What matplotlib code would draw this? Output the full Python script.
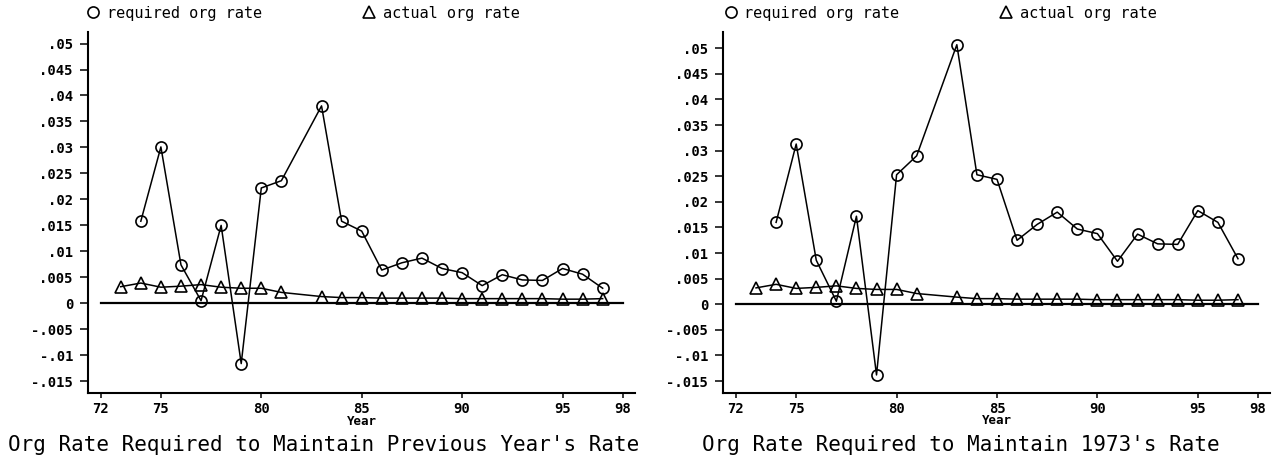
import numpy as np
import matplotlib
matplotlib.use('Agg')
import matplotlib.pyplot as plt
from matplotlib.lines import Line2D

# years (no observation for 82)
years_req = [74, 75, 76, 77, 78, 79, 80, 81, 83, 84, 85, 86, 87, 88, 89, 90, 91, 92, 93, 94, 95, 96, 97]
years_act = [73, 74, 75, 76, 77, 78, 79, 80, 81, 83, 84, 85, 86, 87, 88, 89, 90, 91, 92, 93, 94, 95, 96, 97]

# required org rate, to keep previous year's rate
req_prev = [0.0158, 0.0301, 0.0074, 0.0005, 0.0150, -0.0116, 0.0222, 0.0236, 0.0380, 0.0158, 0.0139,
            0.0064, 0.0078, 0.0087, 0.0067, 0.0059, 0.0034, 0.0055, 0.0045, 0.0044, 0.0067, 0.0056, 0.0029]
# required org rate, to keep 1973's rate
req_1973 = [0.0160, 0.0313, 0.0086, 0.0006, 0.0172, -0.0138, 0.0253, 0.0290, 0.0507, 0.0253, 0.0244,
            0.0125, 0.0156, 0.0180, 0.0147, 0.0138, 0.0084, 0.0137, 0.0118, 0.0117, 0.0183, 0.0160, 0.0089]
# actual org rate
act_prev = [0.0032, 0.0039, 0.0031, 0.0033, 0.0036, 0.0031, 0.0029, 0.0029, 0.0021, 0.0013, 0.0011, 0.0011,
            0.0010, 0.0010, 0.0010, 0.0010, 0.0009, 0.0009, 0.0009, 0.0009, 0.0009, 0.0008, 0.0008, 0.0009]
act_1973 = [0.0032, 0.0039, 0.0031, 0.0033, 0.0036, 0.0031, 0.0029, 0.0029, 0.0021, 0.0014, 0.0011, 0.0011,
            0.0010, 0.0010, 0.0010, 0.0010, 0.0009, 0.0009, 0.0009, 0.0009, 0.0009, 0.0008, 0.0008, 0.0009]

yticks = [-0.015, -0.01, -0.005, 0, 0.005, 0.01, 0.015, 0.02, 0.025, 0.03, 0.035, 0.04, 0.045, 0.05]
ytick_labels = ['-.015', '-.01', '-.005', '0', '.005', '.01', '.015', '.02', '.025', '.03', '.035', '.04', '.045', '.05']
xticks = [72, 75, 80, 85, 90, 95, 98]
xtick_labels = ['72', '75', '80', '85', '90', '95', '98']

titles = ["Org Rate Required to Maintain Previous Year's Rate", "Org Rate Required to Maintain 1973's Rate"]
legend_labels = ['required org rate', 'actual org rate']

W, H = 1275, 459
fig = plt.figure(figsize=(W / 100, H / 100), dpi=100)
mono = 'DejaVu Sans Mono'

panels = [
    # axes left px, bottom px, top px, ylim, data
    (88.0, 393.3, 32.0, (-0.01732, 0.05222), req_prev, act_prev, titles[0]),
    (723.3, 392.7, 31.7, (-0.01727, 0.05324), req_1973, act_1973, titles[1]),
]

for i, (lpx, bpx, tpx, ylim, req, act, title) in enumerate(panels):
    ax = fig.add_axes([lpx / W, (H - bpx) / H, 547 / W, (bpx - tpx) / H])
    off = i * 637.5

    ax.plot([72, 98], [0, 0], color='black', lw=1.6, zorder=1)
    ax.plot(years_req, req, color='black', lw=1.1, marker='o', ms=8,
            mfc='none', mec='black', mew=1.2, zorder=3)
    ax.plot(years_act, act, color='black', lw=1.1, marker='^', ms=8,
            mfc='none', mec='black', mew=1.2, zorder=3)

    ax.set_xlim(71.37, 98.61)
    ax.set_ylim(*ylim)
    ax.set_xticks(xticks)
    ax.set_xticklabels(xtick_labels, family=mono, fontsize=10, weight='bold')
    ax.set_yticks(yticks)
    ax.set_yticklabels(ytick_labels, family=mono, fontsize=10, weight='bold')
    ax.tick_params(axis='y', length=5.8, width=1.1, pad=5)
    ax.tick_params(axis='x', length=3.6, width=1.1, pad=3)
    for s in ['top', 'right']:
        ax.spines[s].set_visible(False)
    for s in ['left', 'bottom']:
        ax.spines[s].set_linewidth(1.5)
    ax.set_xlabel('Year', family=mono, fontsize=9, weight='bold', labelpad=-1)
    ax.patch.set_visible(False)

    fig.text((323.4 + off) / W, 1 - 445 / H, title, family=mono, fontsize=15,
             ha='center', va='center')

    handles = [Line2D([], [], ls='none', marker='o', ms=8, mfc='none', mec='black', mew=1.2),
               Line2D([], [], ls='none', marker='^', ms=8, mfc='none', mec='black', mew=1.2)]
    fig.legend(handles, legend_labels, loc='center left', ncol=2,
               bbox_to_anchor=((85.4 + off) / W, 1 - 13.3 / H),
               prop={'family': mono, 'size': 11}, frameon=False,
               handlelength=1, handletextpad=0.4, columnspacing=6.5,
               borderpad=0, borderaxespad=0)

plt.savefig('out.png', dpi=100)
